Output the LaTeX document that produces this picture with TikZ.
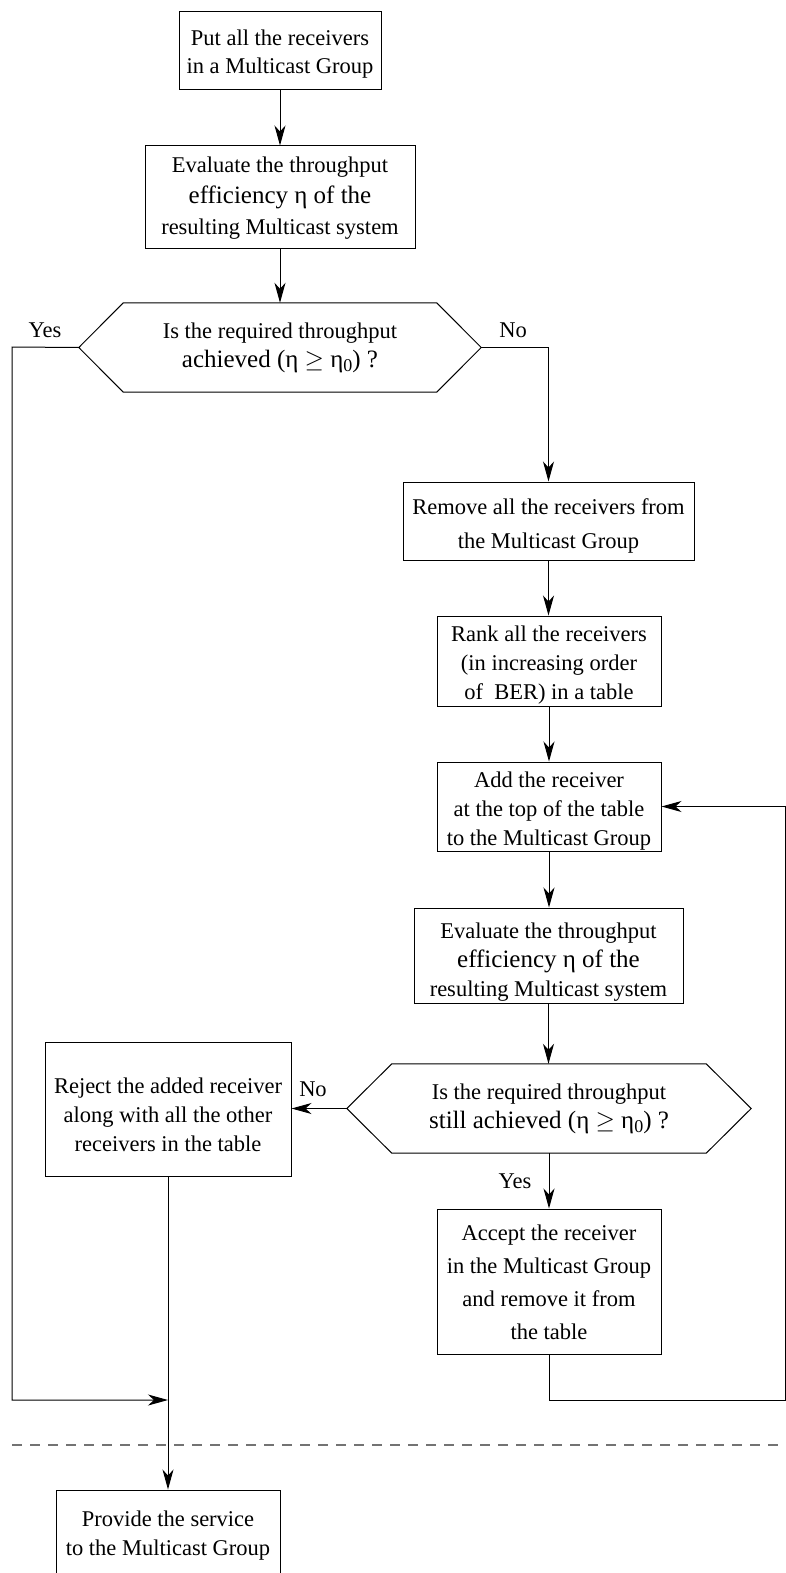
\documentclass[tikz,border=0pt]{standalone}
\usepackage{fontspec}
\setmainfont{Liberation Serif}
\usetikzlibrary{arrows.meta,calc}

% text sizes: body text and the slightly larger lines that carry the eta symbol
\newcommand{\bodysz}[1]{\fontsize{22.5}{#1}\selectfont}
\newcommand{\etasz}{\fontsize{25}{29}\selectfont}
\newcommand{\etanought}{η\raisebox{-0.18em}{\fontsize{18}{18}\selectfont 0}}
% an invisible strut on a first line lowers the text block inside its box
\newcommand{\lowr}[1]{\rule{0pt}{#1pt}}

\tikzset{
  flowbox/.style={draw, rectangle, inner sep=0pt, align=center, line width=1pt,
    font=\bodysz{29}},
  decide/.style={rectangle, inner sep=0pt, align=center, font=\bodysz{29}},
  hexline/.style={draw, line width=1pt, line join=miter},
  link/.style={line width=1pt},
  arr/.style={link, -{Stealth[length=20pt, width=11pt, inset=6pt]}},
  tag/.style={inner sep=0pt, font=\bodysz{29}},
  sepline/.style={line width=1.3pt, black!55, dash pattern=on 10pt off 8pt}
}

\begin{document}
\begin{tikzpicture}[x=1pt, y=-1pt]
\useasboundingbox (0,0) rectangle (786,1573);
\clip (0,0) rectangle (786,1573);

% process boxes
\node[flowbox, minimum width=202, minimum height=78, font=\bodysz{28}] (put) at (280,51)
  {\lowr{22}Put all the receivers\\in a Multicast Group};
\node[flowbox, minimum width=270, minimum height=102, font=\bodysz{31}] (ev1) at (280,197)
  {\lowr{17}Evaluate the throughput\\{\etasz efficiency η of the}\\resulting Multicast system};

% first test
\node[decide, minimum width=313, minimum height=89] (q1) at (280,347.5)
  {Is the required throughput\\{\etasz achieved (η $\geq$ \etanought) ?}};
\draw[hexline] (q1.north west) -- (q1.north east) -- ($(q1.east)+(44.5,0)$)
  -- (q1.south east) -- (q1.south west) -- ($(q1.west)+(-44.5,0)$) -- cycle;
\coordinate (q1l) at ($(q1.west)+(-44.5,0)$);
\coordinate (q1r) at ($(q1.east)+(44.5,0)$);

\node[flowbox, minimum width=291, minimum height=78, font=\bodysz{34}] (rem) at (548.5,521)
  {\lowr{26}Remove all the receivers from\\the Multicast Group};
\node[flowbox, minimum width=224, minimum height=90] (rank) at (549,661)
  {\lowr{23}Rank all the receivers\\(in increasing order\\of\ \ BER) in a table};
\node[flowbox, minimum width=224, minimum height=89] (add) at (549,806.5)
  {\lowr{24}Add the receiver\hspace{12pt}\\at the top of the table\\to the Multicast Group};
\node[flowbox, minimum width=269, minimum height=95] (ev2) at (548.5,955.5)
  {\lowr{29}Evaluate the throughput\\{\etasz efficiency η of the}\\resulting Multicast system};

% second test
\node[decide, minimum width=314, minimum height=89] (q2) at (549,1108.5)
  {Is the required throughput\\{\etasz still achieved (η $\geq$ \etanought) ?}};
\draw[hexline] (q2.north west) -- (q2.north east) -- ($(q2.east)+(45,0)$)
  -- (q2.south east) -- (q2.south west) -- ($(q2.west)+(-45,0)$) -- cycle;
\coordinate (q2l) at ($(q2.west)+(-45,0)$);

\node[flowbox, minimum width=246, minimum height=134] (rej) at (168,1109)
  {\lowr{27}Reject the added receiver\\along with all the other\\receivers in the table};
\node[flowbox, minimum width=224, minimum height=145, font=\bodysz{33}] (acc) at (549,1281.5)
  {\lowr{17}Accept the receiver\\in the Multicast Group\\and remove it from\\the table};
\node[flowbox, minimum width=224, minimum height=85] (prov) at (168,1532.5)
  {\lowr{22}Provide the service\\to the Multicast Group};

% routing points
\coordinate (lx) at (12,347);
\coordinate (merge) at (168,1400);
\coordinate (rx) at (785,1400);
\coordinate (sepL) at (12,1445);
\coordinate (sepR) at (786,1445);

% connectors
\draw[arr] (put) -- (ev1);
\draw[arr] (ev1) -- (q1.north);
\draw[arr] (q1l) -- (lx) -- (lx |- merge) -- (merge);
\draw[arr] (q1r) -| (rem.north);
\draw[arr] (rem.south) -- (rem.south |- rank.north);
\draw[arr] (rank) -- (add);
\draw[arr] (add) -- (add.south |- ev2.north);
\draw[arr] (ev2.south) -- (ev2.south |- q2.north);
\draw[arr] (q2l) -- (q2l -| rej.east);
\draw[arr] (q2.south) -- (q2.south |- acc.north);
\draw[arr] (acc.south) -- (acc.south |- rx) -- (rx) -- (rx |- add.east) -- (add.east);
\draw[arr] (rej) -- (prov);

% branch labels
\node[tag] (yes1) at (45,330) {Yes};
\node[tag] (no1) at (513,330) {No};
\node[tag] (no2) at (313,1089) {No};
\node[tag] (yes2) at (515,1181) {Yes};

% boundary between admission control and service
\draw[sepline] (sepL) -- (sepR);
\end{tikzpicture}
\end{document}
